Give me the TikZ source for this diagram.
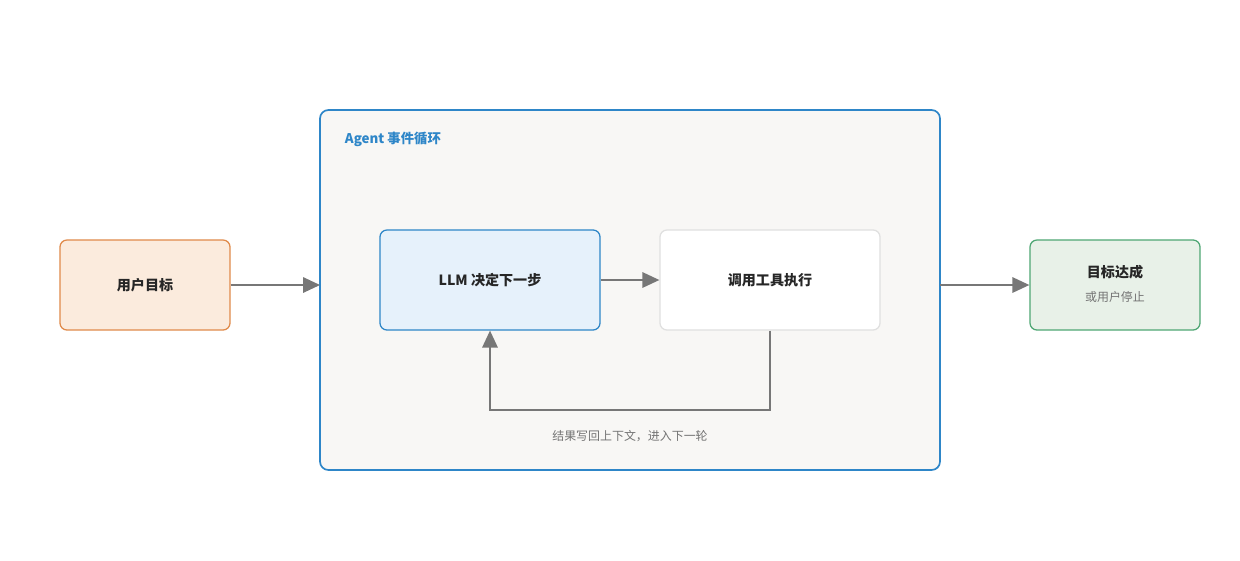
\documentclass[tikz,border=0pt]{standalone}
\usepackage{fontspec}
\setmainfont{Noto Sans CJK SC}
\usepackage{tikz}
\usetikzlibrary{arrows.meta}
\definecolor{loopblue}{HTML}{2E86C8}
\definecolor{goalorange}{HTML}{E08A4A}
\definecolor{goalfill}{HTML}{FBEBDD}
\definecolor{donegreen}{HTML}{4FA774}
\definecolor{donefill}{HTML}{E8F1E8}
\definecolor{llmfill}{HTML}{E6F1FB}
\definecolor{loopfill}{HTML}{F8F7F5}
\definecolor{arrowgray}{HTML}{777777}
\tikzset{
    > = {Triangle[length=12pt,width=11pt]},
    box/.style = {draw, rounded corners=5pt, line width=.9pt, minimum width=4.25cm, minimum height=2.5cm, font=\bfseries\fontsize{10}{12}\selectfont, text=black!85},
    flow/.style = {->, draw=arrowgray, line width=1pt}
}
\begin{document}
\begin{tikzpicture}[x=0.025cm, y=-0.025cm]
        \useasboundingbox (0,0) rectangle (1240,560);
        \draw[loopblue, fill=loopfill, rounded corners=6pt, line width=1.2pt] (320,110) rectangle (940,470);
        \node[anchor=west, text=loopblue, font=\bfseries\fontsize{9.5}{11}\selectfont] (title) at (340,139) {Agent 事件循环};
        \node[box, draw=goalorange, fill=goalfill, minimum height=2.25cm] (goal) at (145,285) {用户目标};
        \node[box, draw=loopblue, fill=llmfill, minimum width=5.5cm] (llm) at (490,280) {LLM 决定下一步};
        \node[box, draw=black!12, fill=white, minimum width=5.5cm] (tool) at (770,280) {调用工具执行};
        \node[box, draw=donegreen, fill=donefill, minimum height=2.25cm] (done) at (1115,285) {};
        \node[font=\bfseries\fontsize{10}{12}\selectfont, text=black!85] (donetext) at (1115,272) {目标达成};
        \node[font=\fontsize{8.5}{10}\selectfont, text=black!55] (donesub) at (1115,297) {或用户停止};
        \coordinate (loopin) at (320,285);
        \coordinate (loopout) at (940,285);
        \coordinate (back) at (770,410);
        \node[font=\fontsize{8.5}{10}\selectfont, text=black!55] (note) at (630,436) {结果写回上下文，进入下一轮};
        \draw[flow] (goal) -- (loopin);
        \draw[flow] (llm) -- (tool);
        \draw[flow] (loopout) -- (done);
        \draw[flow] (tool.south) -- (back) -| (llm.south);
    \end{tikzpicture}
\end{document}
